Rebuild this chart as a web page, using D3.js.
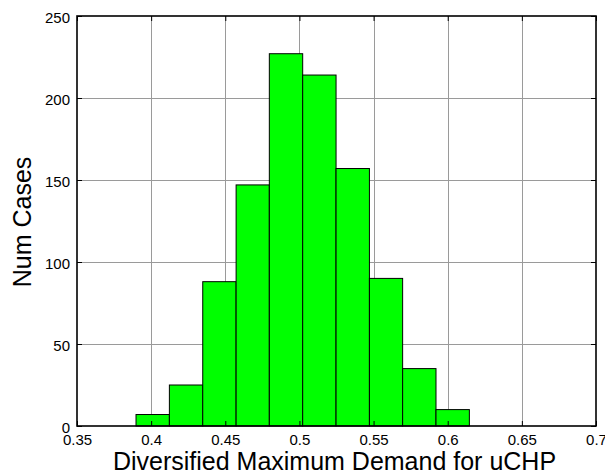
<!DOCTYPE html>
<html>
<head>
<meta charset="utf-8">
<script src="https://cdn.jsdelivr.net/npm/d3@7"></script>
<style>
  html, body { margin: 0; padding: 0; background: #fff; }
  svg { display: block; font-family: "Liberation Sans", Arial, sans-serif; }
</style>
</head>
<body>
<svg id="chart" width="605" height="470"></svg>
<script>
// Histogram bin edges (demand values) and the number of cases in each bin
const binEdges = [0.3898, 0.4123, 0.4348, 0.4573, 0.4797, 0.5022, 0.5247, 0.5472, 0.5696, 0.5921, 0.6146];
const binCounts = [7, 25, 88, 147, 227, 214, 157, 90, 35, 10];

// Axis ticks
const xTicks = [0.35, 0.4, 0.45, 0.5, 0.55, 0.6, 0.65, 0.7];
const xTickLabels = ["0.35", "0.4", "0.45", "0.5", "0.55", "0.6", "0.65", "0.7"];
const yTicks = [0, 50, 100, 150, 200, 250];
const yTickLabels = ["0", "50", "100", "150", "200", "250"];

const xLabel = "Diversified Maximum Demand for uCHP";
const yLabel = "Num Cases";

const svg = d3.select("#chart");
const plot = { left: 77, right: 596, top: 16, bottom: 426 };

const x = d3.scaleLinear().domain([0.35, 0.7]).range([plot.left, plot.right]);
const y = d3.scaleLinear().domain([0, 250]).range([plot.bottom, plot.top]);

const bins = binCounts.map((c, i) => ({ x0: binEdges[i], x1: binEdges[i + 1], count: c }));

// Grid lines
const grid = svg.append("g").attr("stroke", "#9a9a9a").attr("stroke-width", 1);
grid.selectAll("line.gx")
  .data(xTicks.filter(t => t > 0.35 && t < 0.7))
  .join("line")
  .attr("x1", d => Math.round(x(d)) + 0.5).attr("x2", d => Math.round(x(d)) + 0.5)
  .attr("y1", plot.top).attr("y2", plot.bottom);
grid.selectAll("line.gy")
  .data(yTicks.filter(t => t > 0 && t < 250))
  .join("line")
  .attr("y1", d => Math.round(y(d)) + 0.5).attr("y2", d => Math.round(y(d)) + 0.5)
  .attr("x1", plot.left).attr("x2", plot.right);

// Bars
svg.append("g")
  .selectAll("rect")
  .data(bins)
  .join("rect")
  .attr("x", d => x(d.x0))
  .attr("width", d => x(d.x1) - x(d.x0))
  .attr("y", d => y(d.count))
  .attr("height", d => y(0) - y(d.count))
  .attr("fill", "#00ff00")
  .attr("stroke", "#000")
  .attr("stroke-width", 1);

// Axes: ticks point inward, on all four sides
const tickLen = 5;
const axBottom = d3.axisBottom(x).tickValues(xTicks).tickFormat((d, i) => xTickLabels[i])
  .tickSizeInner(-tickLen).tickSizeOuter(0).tickPadding(8);
const axLeft = d3.axisLeft(y).tickValues(yTicks).tickFormat((d, i) => yTickLabels[i])
  .tickSizeInner(-tickLen).tickSizeOuter(0).tickPadding(7);
const axTop = d3.axisTop(x).tickValues(xTicks).tickFormat("").tickSizeInner(-tickLen).tickSizeOuter(0);
const axRight = d3.axisRight(y).tickValues(yTicks).tickFormat("").tickSizeInner(-tickLen).tickSizeOuter(0);

function styleAxis(g) {
  g.select(".domain").remove();
  g.selectAll(".tick line").attr("stroke", "#000");
  g.selectAll(".tick text").attr("fill", "#000").attr("font-size", 15)
    .attr("font-family", "'Liberation Sans', Arial, sans-serif");
}

svg.append("g").attr("transform", `translate(0,${plot.bottom})`).call(axBottom).call(styleAxis);
svg.append("g").attr("transform", `translate(${plot.left},0)`).call(axLeft).call(styleAxis)
  .selectAll(".tick text").attr("dy", "0.45em");
svg.append("g").attr("transform", `translate(0,${plot.top})`).call(axTop).call(styleAxis);
svg.append("g").attr("transform", `translate(${plot.right},0)`).call(axRight).call(styleAxis);

// Axes box
svg.append("rect")
  .attr("x", plot.left).attr("y", plot.top)
  .attr("width", plot.right - plot.left).attr("height", plot.bottom - plot.top)
  .attr("fill", "none").attr("stroke", "#000").attr("stroke-width", 1.6);

// Axis titles
svg.append("text")
  .attr("x", (plot.left + plot.right) / 2 - 2)
  .attr("y", 470)
  .attr("text-anchor", "middle")
  .attr("font-size", 25)
  .attr("fill", "#000")
  .text(xLabel);

svg.append("text")
  .attr("transform", `translate(31,${(plot.top + plot.bottom) / 2 + 1}) rotate(-90)`)
  .attr("text-anchor", "middle")
  .attr("font-size", 25)
  .attr("fill", "#000")
  .text(yLabel);
</script>
</body>
</html>
